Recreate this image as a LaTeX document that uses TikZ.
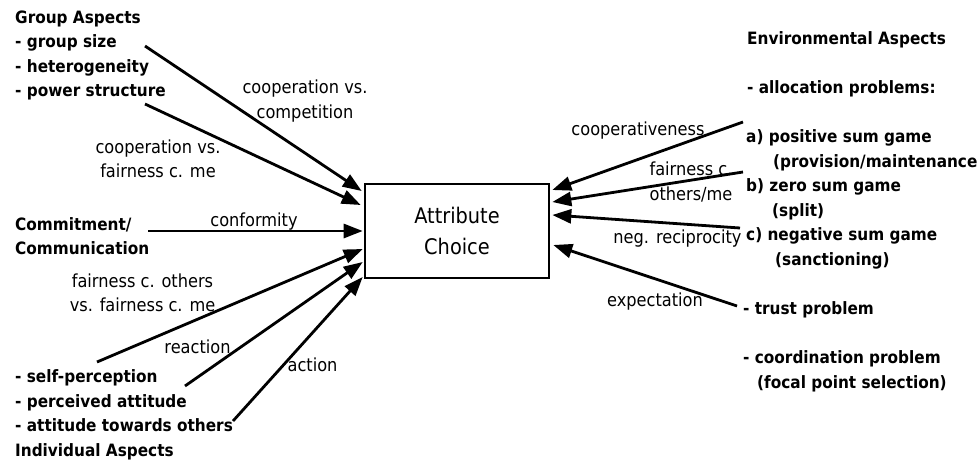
\documentclass[tikz,border=0pt]{standalone}
\usepackage{fontspec}
\setmainfont[FakeStretch=0.9]{DejaVu Sans}
\usetikzlibrary{arrows.meta,calc}
\begin{document}
\begin{tikzpicture}[x=1pt,y=-1pt,
  heading/.style={anchor=base west,inner sep=0pt,font=\fontsize{17}{20}\selectfont\bfseries},
  edgelabel/.style={anchor=base,inner sep=0pt,font=\fontsize{18}{22}\selectfont},
  flow/.style={line width=2.8pt,-{Triangle[length=19pt,width=14pt]}},
  choicebox/.style={draw,line width=2.6pt,minimum width=184pt,minimum height=94pt,
    inner sep=0pt,align=center,font=\fontsize{21.5}{31}\selectfont}]

% canvas
\path[use as bounding box,fill=white] (0,0) rectangle (977,466);
\clip (0,0) rectangle (977,466);

% central box
\node[choicebox] (box) at (457,231) {Attribute\\Choice};

% group aspects
\node[heading] (ga)     at (15,23.5)  {Group Aspects};
\node[heading] (gsize)  at (15,47.8)  {- group size};
\node[heading] (hetero) at (15,72.1)  {- heterogeneity};
\node[heading] (power)  at (15,96.4)  {- power structure};

% commitment
\node[heading] (commit) at (15,230.7) {Commitment/};
\node[heading] (comm)   at (15,254.8) {Communication};

% individual aspects
\node[heading] (selfp)  at (15,382.5) {- self-perception};
\node[heading] (perc)   at (15,407)   {- perceived attitude};
\node[heading] (attot)  at (15,431.5) {- attitude towards others};
\node[heading] (indiv)  at (15,456)   {Individual Aspects};

% environmental aspects
\node[heading] (env)    at (747,44)    {Environmental Aspects};
\node[heading] (alloc)  at (747,93.2)  {- allocation problems:};
\node[heading] (posg)   at (746,142.4) {a) positive sum game};
\node[heading] (prov)   at (773,167)   {(provision/maintenance)};
\node[heading] (zerog)  at (746,191.6) {b) zero sum game};
\node[heading] (split)  at (772,216.2) {(split)};
\node[heading] (negg)   at (746,240.8) {c) negative sum game};
\node[heading] (sanct)  at (775,265.4) {(sanctioning)};
\node[heading] (trust)  at (743,314.6) {- trust problem};
\node[heading] (coord)  at (743,363.8) {- coordination problem};
\node[heading] (focal)  at (757,388.4) {(focal point selection)};

% connector start points
\coordinate (sGsize) at (145,46);
\coordinate (sPower) at (145,104);
\coordinate (sComm)  at (148,231);
\coordinate (sSelf)  at (97,362);
\coordinate (sPerc)  at (185,386);
\coordinate (sAtt)   at (233,421);
\coordinate (sPos)   at (743,122);
\coordinate (sZero)  at (743,172);
\coordinate (sNeg)   at (740,228);
\coordinate (sTrust) at (737,306);

% connectors into the box
\draw[flow] (sGsize) -- ($(box.west)+(-2,-40)$);
\draw[flow] (sPower) -- ($(box.west)+(-3,-26)$);
\draw[flow] (sComm)  -- ($(box.west)+(-1,0)$);
\draw[flow] (sSelf)  -- ($(box.west)+(-1,18)$);
\draw[flow] (sPerc)  -- ($(box.west)+(-1,31)$);
\draw[flow] (sAtt)   -- ($(box.west)+(-1,46)$);
\draw[flow] (sPos)   -- ($(box.east)+(2,-41)$);
\draw[flow] (sZero)  -- ($(box.east)+(2,-29)$);
\draw[flow] (sNeg)   -- ($(box.east)+(2,-16)$);
\draw[flow] (sTrust) -- ($(box.east)+(3,14)$);

% connector labels
\node[edgelabel] (lCoopA)  at (305,93.5)  {cooperation vs.};
\node[edgelabel] (lCoopB)  at (305,118)   {competition};
\node[edgelabel] (lFairA)  at (158,153)   {cooperation vs.};
\node[edgelabel] (lFairB)  at (158,177.5) {fairness c. me};
\node[edgelabel] (lConf)   at (254,226)   {conformity};
\node[edgelabel] (lOthA)   at (142.5,287) {fairness c. others};
\node[edgelabel] (lOthB)   at (142.5,311.5) {vs. fairness c. me};
\node[edgelabel] (lReact)  at (197.5,353) {reaction};
\node[edgelabel] (lAct)    at (312.5,371.5) {action};
\node[edgelabel] (lCoopv)  at (638,135)   {cooperativeness};
\node[edgelabel] (lFcA)    at (691,175.5) {fairness c.};
\node[edgelabel] (lFcB)    at (691,200)   {others/me};
\node[edgelabel] (lNeg)    at (677.5,243) {neg. reciprocity};
\node[edgelabel] (lExp)    at (655,306.5) {expectation};
\end{tikzpicture}
\end{document}
